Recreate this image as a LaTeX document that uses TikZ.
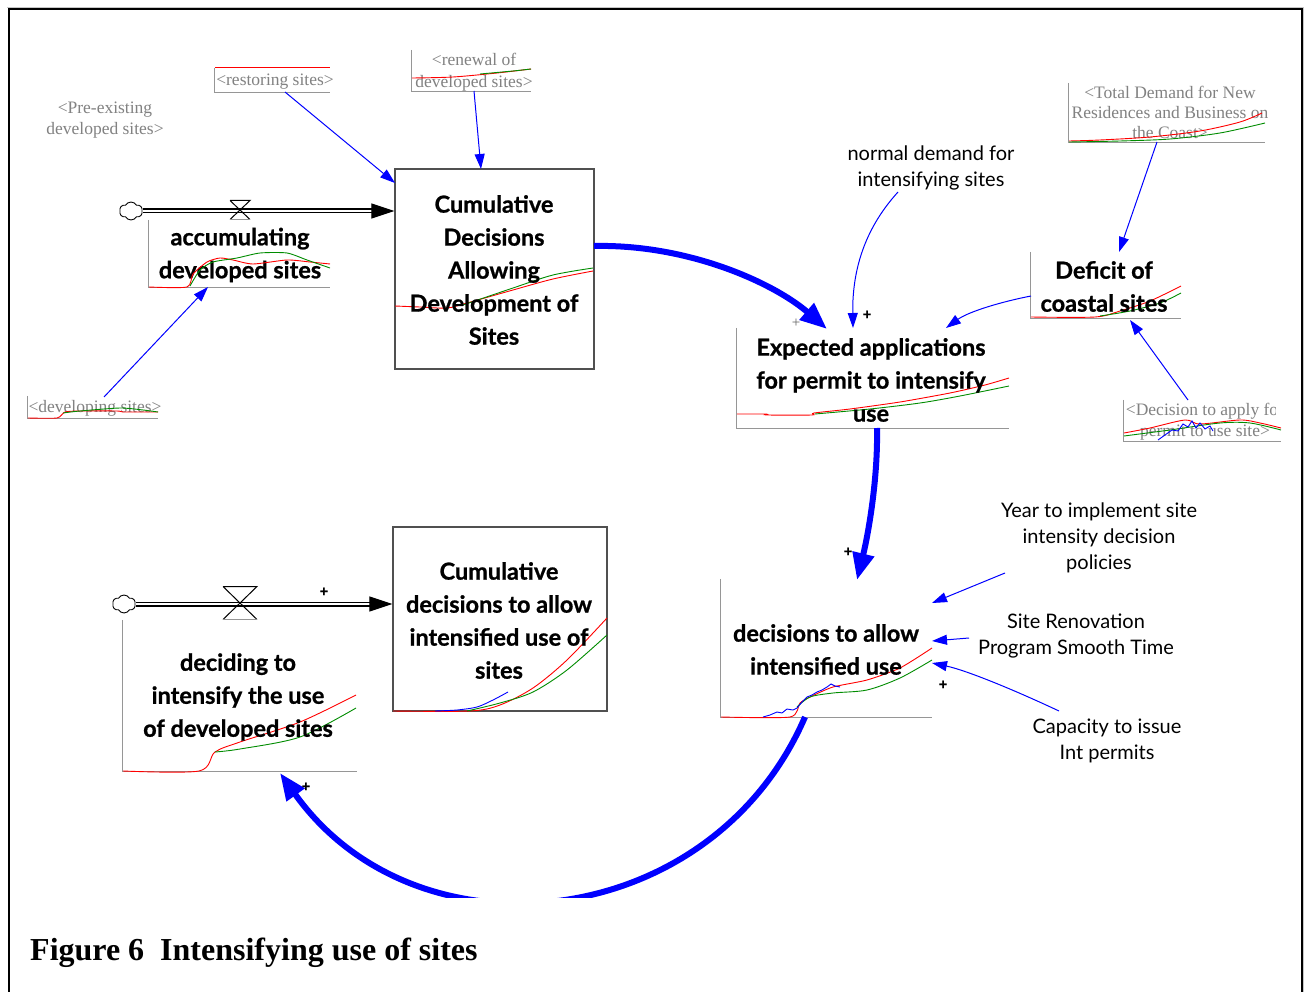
\documentclass[tikz,border=0pt]{standalone}
\usepackage{fontspec}
\setmainfont{Liberation Serif}
\newfontfamily\diagfont{Lato}[BoldFeatures={FakeBold=0.9}]
\usetikzlibrary{arrows.meta,shapes.symbols}
\definecolor{shadowgray}{RGB}{130,130,130}
\definecolor{axisgray}{RGB}{150,150,150}
\definecolor{boxgray}{RGB}{80,80,80}
\definecolor{runred}{RGB}{255,0,0}
\definecolor{rungreen}{RGB}{0,140,0}
\definecolor{linkblue}{RGB}{0,0,255}
\tikzset{
  stockbox/.style={draw=boxgray, line width=1.3pt, rectangle, inner sep=0pt},
  graphbox/.style={rectangle, inner sep=0pt, draw=none},
  stocktext/.style={font=\diagfont\bfseries\fontsize{23.5}{33}\selectfont, align=center, inner sep=0pt},
  auxtext/.style={font=\diagfont\fontsize{20}{26}\selectfont, align=center, inner sep=0pt},
  shadowtext/.style={font=\fontsize{17.5}{21}\selectfont, text=shadowgray, align=center, inner sep=0pt},
  axisline/.style={draw=axisgray, line width=1.1pt},
  simred/.style={draw=runred, line width=0.9pt},
  simgreen/.style={draw=rungreen, line width=0.9pt},
  simblue/.style={draw=linkblue, line width=0.9pt},
  link/.style={draw=linkblue, line width=1pt, -{Triangle[length=15pt,width=10pt]}},
  loopline/.style={draw=linkblue, line width=6pt, -{Triangle[length=27pt,width=21pt]}},
  pipe/.style={draw=black, line width=1.2pt, double=white, double distance=2.6pt, -{Triangle[length=23pt,width=15pt]}},
  valveline/.style={draw=black, line width=1pt},
  sourcecloud/.style={cloud, cloud puffs=6, cloud puff arc=120, draw=black, line width=0.9pt, minimum width=23pt, minimum height=18pt, inner sep=0pt, fill=white},
  polarity/.style={font=\diagfont\bfseries\fontsize{15}{15}\selectfont, inner sep=0pt},
}
\begin{document}
\begin{tikzpicture}[x=1pt,y=-1pt]
\useasboundingbox (0,0) rectangle (1304,992);
\fill[white] (0,0) rectangle (1304,992);

% outer frame
\draw[gray!45, line width=1pt] (7,7.5) -- (1303.5,7.5) -- (1303.5,995);
\draw[black, line width=2pt] (8.5,995) -- (8.5,9.5) -- (1301.5,9.5) -- (1301.5,995);

% ---------- stocks ----------
\node[stockbox, minimum width=199pt, minimum height=200pt] (cdads) at (494.5,269) {};
\draw[simred] plot[smooth, tension=0.5] coordinates {(395,306) (420,307) (447,308) (467,303) (513,290) (553,279) (593,271)};
\draw[simgreen] plot[smooth, tension=0.5] coordinates {(463,305) (513,288) (553,275) (593,268)};
\node[stocktext] (cdadsT) at (494,270) {Cumulative\\Decisions\\Allowing\\Development of\\Sites};

\node[stockbox, minimum width=214pt, minimum height=184pt] (cdaius) at (500,619) {};
\draw[simred] plot[smooth, tension=0.5] coordinates {(393,711) (470,711) (500,705) (533,688) (567,660) (607,618)};
\draw[simgreen] plot[smooth, tension=0.5] coordinates {(467,711) (500,703) (533,692) (567,670) (607,635)};
\draw[simblue] plot[smooth, tension=0.5] coordinates {(435,711) (457,710) (477,707) (493,700) (508,692)};
\node[stocktext] (cdaiusT) at (499,620.5) {Cumulative\\decisions to allow\\intensified use of\\sites};

% ---------- flow: accumulating developed sites ----------
\node[sourcecloud] (src1) at (131,211) {};
\draw[pipe] (src1.east) -- (cdads.west |- src1.east);
\coordinate (valve1) at (240,210.5);
\draw[valveline] ([shift={(-10,-10)}]valve1) -- ([shift={(10,-10)}]valve1) -- ([shift={(-10,9)}]valve1)
  ([shift={(10,9)}]valve1) -- ([shift={(-10,-10)}]valve1);
\draw[axisgray, line width=1pt] ([shift={(-10,9)}]valve1) -- ([shift={(10,9)}]valve1);

\node[graphbox, minimum width=181pt, minimum height=67pt] (accG) at (239.5,253.5) {};
\draw[axisline] (accG.north west) -- (accG.south west) -- (accG.south east);
\node[stocktext] (accT) at (240,255) {accumulating\\developed sites};
\draw[simred] plot[smooth, tension=0.4] coordinates {(149,287) (187,287) (193,274) (207,262) (220,258) (233,260) (253,264) (287,260) (310,262) (330,264)};
\draw[simgreen] plot[smooth, tension=0.4] coordinates {(190,286) (200,270) (213,262) (237,258) (260,253) (287,253) (307,260) (330,268)};

% ---------- flow: deciding to intensify ----------
\node[sourcecloud] (src2) at (124,604) {};
\draw[pipe] (src2.east) -- (cdaius.west |- src2.east);
\coordinate (valve2) at (240,603.5);
\draw[valveline] ([shift={(-17,-17)}]valve2) -- ([shift={(17,-17)}]valve2) -- ([shift={(-17,16)}]valve2)
  ([shift={(17,16)}]valve2) -- ([shift={(-17,-17)}]valve2);
\draw[axisgray, line width=1pt] ([shift={(-17,16)}]valve2) -- ([shift={(17,16)}]valve2);
\node[polarity] (pFlow) at (324,592) {+};

\node[graphbox, minimum width=234pt, minimum height=151pt] (decG) at (240,695.5) {};
\draw[axisline] (decG.north west) -- (decG.south west) -- (decG.south east);
\draw[simred] plot[smooth, tension=0.5] coordinates {(123,771) (199,771) (215,752) (240,742) (300,722) (356,695)};
\draw[simgreen] plot[smooth, tension=0.5] coordinates {(215,752) (240,749) (300,737) (356,708)};
\node[stocktext] (decT) at (238,697) {deciding to\\intensify the use\\of developed sites};

% ---------- shadow variables ----------
\node[shadowtext] (preT) at (105,120.5) {<Pre-existing\\developed sites>};

\node[graphbox, minimum width=115pt, minimum height=24pt] (restG) at (272.5,80) {};
\draw[axisline, line width=0.9pt] (restG.north west) -- (restG.south west) -- (restG.south east);
\draw[simred] (restG.north west) -- (restG.north east);
\node[shadowtext] (restT) at (275,82) {<restoring sites>};

\node[graphbox, minimum width=119pt, minimum height=41pt] (renewG) at (471.5,70.5) {};
\draw[axisline, line width=0.9pt] (renewG.north west) -- (renewG.south west) -- (renewG.south east);
\node[shadowtext, font=\fontsize{17.5}{22}\selectfont] (renewT) at (474,72.5) {<renewal of\\developed sites>};
\draw[simred] plot[smooth, tension=0.5] coordinates {(412,78) (453,77) (497,73) (531,69)};
\draw[simgreen] plot[smooth, tension=0.5] coordinates {(480,74) (513,71) (531,69)};

\node[graphbox, minimum width=130pt, minimum height=22pt] (devG) at (93,407) {};
\draw[axisline, line width=0.9pt] (devG.north west) -- (devG.south west) -- (devG.south east);
\node[shadowtext] (devT) at (95,408) {<developing sites>};
\draw[simred] plot[smooth, tension=0.4] coordinates {(28,418) (57,418) (65,412) (80,411) (117,411) (123,412) (140,412) (158,412)};
\draw[simgreen] plot[smooth, tension=0.4] coordinates {(63,413) (80,411) (120,408) (143,410) (158,412)};

\node[graphbox, minimum width=196pt, minimum height=59pt] (tdG) at (1167,112.5) {};
\draw[axisline, line width=0.9pt] (tdG.north west) -- (tdG.south west) -- (tdG.south east);
\node[shadowtext, font=\fontsize{17.5}{20}\selectfont] (tdT) at (1170,112) {<Total Demand for New\\Residences and Business on\\the Coast>};
\draw[simred] plot[smooth, tension=0.5] coordinates {(1069,141) (1100,140) (1150,137) (1200,131) (1240,122) (1262,113)};
\draw[simgreen] plot[smooth, tension=0.5] coordinates {(1069,142) (1120,141) (1170,139) (1220,133) (1265,123)};

\node[graphbox, minimum width=157pt, minimum height=41pt] (dapG) at (1202.5,420.5) {};
\draw[axisline, line width=0.9pt] (dapG.north west) -- (dapG.south west) -- (dapG.south east);
\begin{scope}
  \clip (1124,392) rectangle (1275.5,446);
  \node[shadowtext] (dapT) at (1205,422) {<Decision to apply for\\permit to use site>};
\end{scope}
\draw[simred] plot[smooth, tension=0.5] coordinates {(1124,433) (1150,428) (1185,420) (1200,424) (1240,420) (1260,423) (1281,428)};
\draw[simgreen] plot[smooth, tension=0.5] coordinates {(1124,436) (1170,430) (1220,423) (1250,423) (1281,430)};
\draw[simblue] (1158,440) -- (1165,435) -- (1172,430) -- (1178,431) -- (1183,424) -- (1188,427) -- (1192,421) -- (1196,428) -- (1200,423) -- (1205,429) -- (1210,426) -- (1213,431);

% ---------- expected applications ----------
\node[graphbox, minimum width=272pt, minimum height=100pt] (eaG) at (873,378) {};
\draw[axisline] (eaG.north west) -- (eaG.south west) -- (eaG.south east);
\draw[simred] plot[smooth, tension=0.4] coordinates {(737,414) (766,414) (767,415) (812,415) (814,413) (850,409) (900,402) (950,393) (985,385) (1009,378)};
\draw[simgreen] plot[smooth, tension=0.5] coordinates {(815,414) (870,409) (920,403) (960,396) (1009,386)};
\node[stocktext] (eaT) at (871,380) {Expected applications\\for permit to intensify\\use};

% ---------- deficit of coastal sites ----------
\node[graphbox, minimum width=150pt, minimum height=66pt] (defG) at (1106,285) {};
\draw[axisline] (defG.north west) -- (defG.south west) -- (defG.south east);
\draw[simred] plot[smooth, tension=0.5] coordinates {(1031,317) (1095,317) (1120,311) (1150,301) (1181,286)};
\draw[simgreen] plot[smooth, tension=0.5] coordinates {(1100,316) (1130,311) (1160,303) (1181,293)};
\node[stocktext] (defT) at (1104,286.5) {Deficit of\\coastal sites};

% ---------- decisions to allow intensified use ----------
\node[graphbox, minimum width=211pt, minimum height=138pt] (daiG) at (826.5,648) {};
\draw[axisline] (daiG.north west) -- (daiG.south west) -- (daiG.south east);
\draw[simred] plot[smooth, tension=0.4] coordinates {(721,717) (790,717) (800,703) (810,697) (833,687) (867,680) (900,668) (932,648)};
\draw[simgreen] plot[smooth, tension=0.5] coordinates {(797,707) (810,697) (833,693) (867,690) (900,678) (932,660)};
\draw[simblue] (763,717) -- (770,715) -- (777,712) -- (782,713) -- (787,709) -- (793,710) -- (797,708) -- (802,702) -- (807,697) -- (812,695) -- (817,692) -- (822,690) -- (827,687) -- (831,684) -- (835,686) -- (840,687);
\node[stocktext] (daiT) at (826,649.5) {decisions to allow\\intensified use};

% ---------- auxiliaries ----------
\node[auxtext] (normT) at (931,168) {normal demand for\\intensifying sites};
\node[auxtext] (yearT) at (1099,537.5) {Year to implement site\\intensity decision\\policies};
\node[auxtext] (renT) at (1076,636) {Site Renovation\\Program Smooth Time};
\node[auxtext] (capT) at (1107,741) {Capacity to issue\\Int permits};

% ---------- connector end points ----------
\coordinate (restOut) at (285,92);
\coordinate (cdadsInL) at (395,183);
\coordinate (renewOut) at (474,91);
\coordinate (cdadsInT) at (481,169);
\coordinate (devOut) at (104,397);
\coordinate (accIn) at (208,287);
\coordinate (cdadsOut) at (594,246);
\coordinate (eaInA) at (827,329);
\coordinate (normOut) at (898,192);
\coordinate (eaInB) at (853,328);
\coordinate (defOut) at (1031,296);
\coordinate (eaInC) at (946,328);
\coordinate (tdOut) at (1157,142);
\coordinate (defInT) at (1119,252);
\coordinate (dapOut) at (1188,400);
\coordinate (defInB) at (1130,320);
\coordinate (eaOut) at (877,428);
\coordinate (daiInT) at (857,580);
\coordinate (yearOut) at (1005,573);
\coordinate (daiInA) at (932,603);
\coordinate (renOut) at (969,638);
\coordinate (daiInB) at (932,641);
\coordinate (capOut) at (1059,711);
\coordinate (daiInC) at (932,663);
\coordinate (daiOut) at (805,717);
\coordinate (decIn) at (280,773);

% ---------- thin links ----------
\draw[link] (restOut) -- (cdadsInL);
\draw[link] (renewOut) -- (cdadsInT);
\draw[link] (devOut) -- (accIn);
\draw[link] (normOut) .. controls (868,225) and (852,265) .. (eaInB);
\draw[link] (defOut) .. controls (1000,302) and (968,312) .. (eaInC);
\draw[link] (tdOut) -- (defInT);
\draw[link] (dapOut) -- (defInB);
\draw[link] (yearOut) -- (daiInA);
\draw[link] (renOut) -- (daiInB);
\draw[link] (capOut) .. controls (1010,688) and (965,670) .. (daiInC);

% ---------- main loop ----------
\draw[loopline] (cdadsOut) .. controls (690,244) and (775,284) .. (eaInA);
\draw[loopline] (eaOut) .. controls (878,480) and (868,535) .. (daiInT);
\begin{scope}
  \clip (0,0) rectangle (1304,897);
  \draw[loopline] (daiOut) .. controls (711.5,933) and (417,965) .. (decIn);
\end{scope}

% ---------- polarities ----------
\node[polarity] (pB) at (867,315) {+};
\node[font=\fontsize{15}{15}\selectfont, text=black!60, inner sep=0pt] (pA) at (796,323) {+};
\node[polarity] (pC) at (848,552) {+};
\node[polarity] (pD) at (943,685) {+};
\node[polarity] (pE) at (306,787) {+};

% ---------- caption ----------
\node[anchor=base west, font=\bfseries\fontsize{32}{36}\selectfont, inner sep=0pt] (caption) at (30,960) {Figure 6\ \ Intensifying use of sites};
\end{tikzpicture}
\end{document}
